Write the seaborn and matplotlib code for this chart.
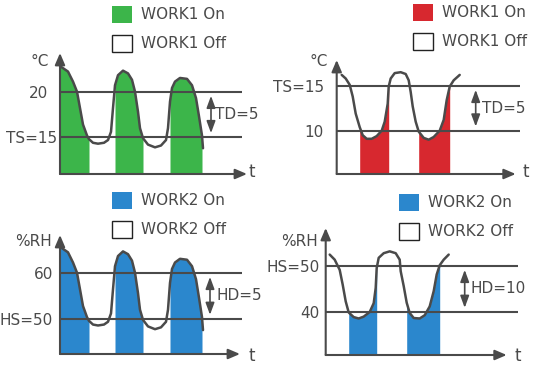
import matplotlib
matplotlib.use("Agg")
import matplotlib.pyplot as plt
import matplotlib.transforms as mtrans
from matplotlib.patches import Patch
import numpy as np
import seaborn as sns

# ---------------- data ----------------
# top-left: heating, temperature (°C)
t_heat = [0, 8, 13, 17, 20, 23, 27, 29, 33, 38, 44, 48, 51, 53, 55, 58, 63, 68, 72,
          75, 78, 80, 83, 88, 95, 101, 106, 108, 110, 112, 115, 120, 127, 132, 136,
          139, 142, 143]
temp_heat = [22.8, 22.2, 21.1, 20.0, 18.2, 16.4, 15.2, 14.8, 14.4, 14.3, 14.4, 14.7,
             15.6, 18.2, 20.7, 21.8, 22.3, 22.0, 21.3, 20.0, 17.8, 16.0, 14.9, 14.2,
             13.9, 14.1, 14.7, 16.0, 18.9, 20.4, 21.1, 21.5, 21.4, 20.7, 19.3, 17.3,
             15.2, 13.8]
on_heat = [(0, 29), (55, 83), (110, 142)]
levels_heat = [15, 20]
labels_heat = ["TS=15", "20"]

# top-right: cooling, temperature (°C)
t_cool = [5, 9, 13, 16, 19, 23, 26, 30, 35, 40, 45, 48, 51, 52, 54, 58, 64, 69, 72,
          74, 76, 79, 82, 87, 92, 97, 103, 107, 110, 113, 117, 123]
temp_cool = [16.2, 15.8, 15.1, 13.8, 11.9, 10.4, 9.5, 9.1, 9.1, 9.4, 10.0, 11.0, 13.0,
             14.9, 15.8, 16.4, 16.5, 16.3, 15.6, 14.3, 12.7, 11.0, 9.9, 9.2, 9.0, 9.3,
             10.0, 11.2, 13.4, 14.9, 15.6, 16.2]
on_cool = [(23, 52), (82, 113)]
levels_cool = [10, 15]
labels_cool = ["10", "TS=15"]

# bottom-left: humidifying (%RH)
t_hum = [0, 8, 13, 17, 20, 23, 27, 29, 33, 38, 44, 48, 51, 53, 55, 58, 63, 68, 72,
         75, 78, 80, 83, 88, 95, 101, 106, 108, 110, 112, 115, 120, 127, 132, 136,
         139, 142, 143]
rh_hum = [65.6, 64.4, 62.2, 60.0, 56.4, 52.8, 50.4, 49.6, 48.8, 48.6, 48.8, 49.4,
          51.2, 56.4, 61.4, 63.6, 64.6, 64.0, 62.6, 60.0, 55.6, 52.0, 49.8, 48.4,
          47.8, 48.2, 49.4, 52.0, 57.8, 60.8, 62.2, 63.0, 62.8, 61.4, 58.6, 54.6,
          50.4, 47.6]
on_hum = [(0, 29), (55, 83), (110, 142)]
levels_hum = [50, 60]
labels_hum = ["HS=50", "60"]

# bottom-right: dehumidifying (%RH)
t_dehum = [4, 9, 14, 17, 20, 23, 28, 33, 38, 44, 48, 50, 51, 53, 58, 64, 70, 74, 75,
           78, 81, 84, 88, 94, 99, 104, 108, 111, 114, 118, 123]
rh_dehum = [52.4, 51.3, 49.1, 45.9, 42.3, 39.9, 38.9, 38.6, 39.0, 40.0, 41.9, 45.2,
            49.5, 51.7, 52.7, 53.1, 52.7, 51.3, 48.8, 45.6, 42.0, 39.8, 38.7, 38.6,
            39.3, 41.2, 44.5, 48.1, 50.1, 51.3, 52.4]
on_dehum = [(23, 51), (81, 114)]
levels_dehum = [40, 50]
labels_dehum = ["40", "HS=50"]

legend_labels_1 = ["WORK1 On", "WORK1 Off"]
legend_labels_2 = ["WORK2 On", "WORK2 Off"]
band_labels = ["TD=5", "TD=5", "HD=5", "HD=10"]
unit_labels = ["°C", "°C", "%RH", "%RH"]

# ---------------- style ----------------
sns.set_style("white")
plt.rcParams["font.family"] = ["DejaVu Sans"]
INK = "#4a4a4a"
GREEN = "#3cb54a"
RED = "#d7282f"
BLUE = "#2b87cd"

W, H = 538, 368
fig = plt.figure(figsize=(W / 100, H / 100), dpi=100)
fig.patch.set_facecolor("white")

panels = [
    dict(t=t_heat, v=temp_heat, on=on_heat, lv=levels_heat, lb=labels_heat, color=GREEN,
         x0=60, xy=174, ref=15, ref_y=137.3, ppu=9.13, ytip=53, xtip=187, lend=182,
         pad=2.2, dbl_t=151, txt_t=155, band=band_labels[0], unit=unit_labels[0],
         unit_pos=(40, 61), tpos=(252, 172), leg=legend_labels_1, leg_xy=(112, 6)),
    dict(t=t_cool, v=temp_cool, on=on_cool, lv=levels_cool, lb=labels_cool, color=RED,
         x0=336.7, xy=174, ref=10, ref_y=130.7, ppu=9.0, ytip=60, xtip=179, lend=183,
         pad=9.4, dbl_t=139, txt_t=145, band=band_labels[1], unit=unit_labels[1],
         unit_pos=(319, 62), tpos=(526, 172), leg=legend_labels_1, leg_xy=(413, 4)),
    dict(t=t_hum, v=rh_hum, on=on_hum, lv=levels_hum, lb=labels_hum, color=BLUE,
         x0=60, xy=354, ref=50, ref_y=319, ppu=4.63, ytip=235, xtip=180, lend=182,
         pad=5.0, dbl_t=150, txt_t=156, band=band_labels[2], unit=unit_labels[2],
         unit_pos=(34, 242), tpos=(252, 356), leg=legend_labels_2, leg_xy=(112, 192)),
    dict(t=t_dehum, v=rh_dehum, on=on_dehum, lv=levels_dehum, lb=labels_dehum, color=BLUE,
         x0=325.7, xy=355, ref=40, ref_y=312, ppu=4.63, ytip=228, xtip=181, lend=192,
         pad=4.3, dbl_t=139, txt_t=145, band=band_labels[3], unit=unit_labels[3],
         unit_pos=(299.5, 242), tpos=(518, 356), leg=legend_labels_2, leg_xy=(399, 194)),
]

AW, AH = 210, 130  # axes size in px

for i, p in enumerate(panels):
    ax = fig.add_axes([p["x0"] / W, (H - p["xy"]) / H, AW / W, AH / H])
    ax.patch.set_visible(False)
    ybot = p["ref"] - (p["xy"] - p["ref_y"]) / p["ppu"]
    ytop = p["ref"] + (p["ref_y"] - (p["xy"] - AH)) / p["ppu"]
    ax.set_xlim(0, AW)
    ax.set_ylim(ybot, ytop)
    for s in ax.spines.values():
        s.set_visible(False)

    t = np.asarray(p["t"], float)
    v = np.asarray(p["v"], float)

    # ON intervals filled under the curve
    for a, b in p["on"]:
        m = (t >= a) & (t <= b)
        ax.fill_between(t, v, ybot, where=m, color=p["color"], lw=0, zorder=1)

    # threshold lines
    ax.hlines(p["lv"], 0, p["lend"], color=INK, lw=1.5, zorder=2)

    # curve
    sns.lineplot(x=t, y=v, ax=ax, color=INK, lw=1.8, sort=False, zorder=3,
                 estimator=None)
    ax.lines[-1].set_solid_joinstyle("round")

    # axes with arrows
    ytip_val = p["ref"] + (p["ref_y"] - p["ytip"]) / p["ppu"]
    arr = dict(arrowstyle="-|>,head_length=0.7,head_width=0.3", color=INK, lw=1.5,
               mutation_scale=10, shrinkA=0, shrinkB=0)
    ax.annotate("", xy=(p["xtip"], ybot), xytext=(0, ybot), arrowprops=arr,
                annotation_clip=False, zorder=4)
    ax.annotate("", xy=(0, ytip_val), xytext=(0, ybot), arrowprops=arr,
                annotation_clip=False, zorder=4)

    # band double arrow + label
    lo, hi = p["lv"]
    dbl = dict(arrowstyle="<|-|>,head_length=0.6,head_width=0.22", color=INK, lw=1.2,
               mutation_scale=12, shrinkA=3, shrinkB=3)
    ax.annotate("", xy=(p["dbl_t"], hi), xytext=(p["dbl_t"], lo), arrowprops=dbl,
                annotation_clip=False)
    ax.text(p["txt_t"], (lo + hi) / 2, p["band"], ha="left", va="center",
            fontsize=11, color=INK)

    # y tick labels
    ax.set_xticks([])
    ax.set_yticks(p["lv"], p["lb"])
    ax.tick_params(axis="y", length=0, pad=p["pad"], labelsize=11, labelcolor=INK)
    if i == 0:
        lab = ax.get_yticklabels()[1]
        lab.set_transform(lab.get_transform() +
                          mtrans.ScaledTranslation(-9 / 100, 0, fig.dpi_scale_trans))

    # unit label and t label
    ax.set_ylabel(p["unit"], rotation=0, fontsize=11, color=INK, ha="center", va="center")
    ax.yaxis.set_label_coords((p["unit_pos"][0] - p["x0"]) / AW,
                              (p["xy"] - p["unit_pos"][1]) / AH)
    ax.set_xlabel("t", fontsize=12, color=INK, ha="center", va="center")
    ax.xaxis.set_label_coords((p["tpos"][0] - p["x0"]) / AW,
                              (p["xy"] - p["tpos"][1]) / AH)

    # legend
    handles = [Patch(facecolor=p["color"], edgecolor=p["color"], lw=0),
               Patch(facecolor="white", edgecolor="#222222", lw=1.0)]
    fig.legend(handles, p["leg"], loc="upper left",
               bbox_to_anchor=(p["leg_xy"][0] / W, 1 - p["leg_xy"][1] / H),
               frameon=False, fontsize=11, labelcolor=INK, borderpad=0,
               borderaxespad=0, handlelength=1.31, handleheight=1.31,
               handletextpad=0.6, labelspacing=0.8)

fig.savefig("out.png", dpi=100, facecolor="white")
